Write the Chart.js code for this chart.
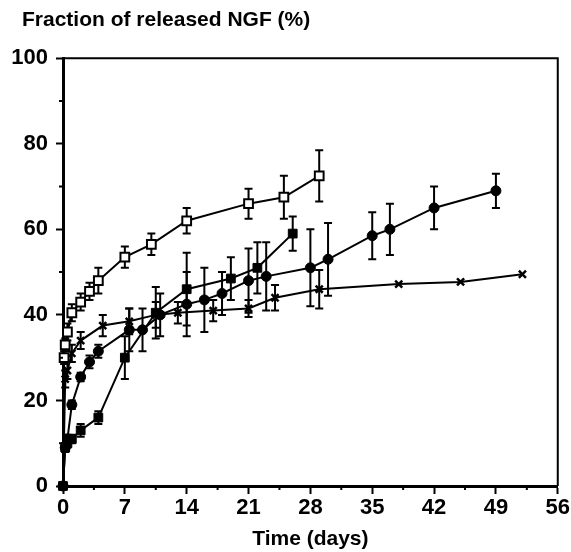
<!DOCTYPE html>
<html>
<head>
<meta charset="utf-8">
<script src="https://cdn.jsdelivr.net/npm/chart.js@4/dist/chart.umd.min.js"></script>
<style>
html,body{margin:0;padding:0;background:#fff;}
canvas{display:block;}
</style>
</head>
<body>
<canvas id="c" width="571" height="552"></canvas>
<script>
// Open squares
const sqDays = [0.125, 0.25, 0.5, 1, 2, 3, 4, 7, 10, 14, 21, 25, 29];
const sqVals = [30, 33, 36, 40.5, 43, 45.5, 48, 53.5, 56.5, 62, 66, 67.5, 72.5];
const sqErr  = [1.5, 1.5, 2, 2, 2, 2, 3, 2.5, 2.5, 3, 3.5, 5, 6];
// Filled circles
const ciDays = [0, 0.25, 0.5, 1, 2, 3, 4, 7.5, 9, 11, 14, 16, 18, 21, 23, 28, 30, 35, 37, 42, 49];
const ciVals = [0, 9, 11, 19, 25.5, 29, 31.5, 36.5, 36.5, 40, 42.5, 43.5, 45, 48, 49, 51, 53, 58.5, 60, 65, 69];
const ciErr  = [0, 1, 1, 1, 1, 1.5, 1.5, 5, 5, 5, 7.5, 7.5, 5, 7.5, 8, 9, 8.5, 5.5, 6, 5, 4];
// Filled squares
const fsDays = [0, 0.25, 0.5, 1, 2, 4, 7, 10.5, 14, 19, 22, 26];
const fsVals = [0, 9, 10, 11, 13, 16, 30, 40.5, 46, 48.5, 51, 59];
const fsErr  = [0, 1, 1, 1, 1.5, 1.5, 5, 6, 8.5, 5, 6, 4];
// Crosses
const xxDays = [0, 0.25, 0.5, 1, 2, 4.5, 7.5, 10.5, 13, 17, 21, 24, 29, 38, 45, 52];
const xxVals = [0, 25, 27, 31, 34, 37.5, 38.5, 40, 40.5, 41, 41.5, 44, 46, 47.2, 47.7, 49.5];
const xxErr  = [0, 2, 2, 2, 2, 2.5, 3, 3, 2.5, 2.5, 2, 3, 4.5, 0, 0, 0];

const xTicks = [0, 7, 14, 21, 28, 35, 42, 49, 56];
const yTicks = [0, 20, 40, 60, 80, 100];

const pts = (d, v) => d.map((x, i) => ({x: x, y: v[i]}));
const FONT = "'Liberation Sans', Arial, sans-serif";

const errPlugin = {
  id: 'errbars',
  afterLayout(chart) {
    if (chart.titleBlock) { chart.titleBlock.left = 22; }
  },
  beforeDatasetsDraw(chart) {
    const ctx = chart.ctx, xs = chart.scales.x, ys = chart.scales.y;
    chart.data.datasets.forEach(ds => {
      const errs = ds.errors;
      if (!errs) return;
      ctx.save();
      ctx.strokeStyle = '#000';
      ctx.lineWidth = 2;
      ds.data.forEach((p, j) => {
        const e = errs[j];
        if (!e) return;
        const px = xs.getPixelForValue(p.x);
        const t = ys.getPixelForValue(p.y + e), b = ys.getPixelForValue(p.y - e);
        ctx.beginPath();
        ctx.moveTo(px, t); ctx.lineTo(px, b);
        ctx.moveTo(px - 4, t); ctx.lineTo(px + 4, t);
        ctx.moveTo(px - 4, b); ctx.lineTo(px + 4, b);
        ctx.stroke();
      });
      ctx.restore();
    });
  },
  afterDraw(chart) {
    const ctx = chart.ctx, a = chart.chartArea, xs = chart.scales.x, ys = chart.scales.y;
    ctx.save();
    ctx.strokeStyle = '#000';
    ctx.lineWidth = 2;
    ctx.beginPath();
    ctx.moveTo(a.left, a.top); ctx.lineTo(a.right, a.top); ctx.lineTo(a.right, a.bottom);
    ctx.stroke();
    // minor ticks
    ctx.beginPath();
    for (let i = 0; i < xTicks.length - 1; i++) {
      const px = xs.getPixelForValue((xTicks[i] + xTicks[i + 1]) / 2);
      ctx.moveTo(px, a.bottom); ctx.lineTo(px, a.bottom + 4);
    }
    for (let i = 0; i < yTicks.length - 1; i++) {
      const py = ys.getPixelForValue((yTicks[i] + yTicks[i + 1]) / 2);
      ctx.moveTo(a.left, py); ctx.lineTo(a.left - 4, py);
    }
    ctx.stroke();
    ctx.restore();
  }
};

const base = {showLine: true, borderColor: '#000', borderWidth: 2, pointBorderColor: '#000', clip: false, tension: 0};

new Chart(document.getElementById('c'), {
  type: 'scatter',
  data: {
    datasets: [
      Object.assign({}, base, {label: 'open', data: pts(sqDays, sqVals), errors: sqErr,
        pointStyle: 'rect', pointRadius: 6.2, pointBackgroundColor: '#fff', pointBorderWidth: 2}),
      Object.assign({}, base, {label: 'circle', data: pts(ciDays, ciVals), errors: ciErr,
        pointStyle: 'circle', pointRadius: 5, pointBackgroundColor: '#000', pointBorderWidth: 1}),
      Object.assign({}, base, {label: 'fsquare', data: pts(fsDays, fsVals), errors: fsErr,
        pointStyle: 'rect', pointRadius: 6.2, pointBackgroundColor: '#000', pointBorderWidth: 1}),
      Object.assign({}, base, {label: 'cross', data: pts(xxDays, xxVals), errors: xxErr,
        pointStyle: 'crossRot', pointRadius: 5, pointBackgroundColor: '#000', pointBorderWidth: 2.5})
    ]
  },
  options: {
    responsive: false,
    animation: false,
    devicePixelRatio: 1,
    layout: {padding: {left: 0, right: 13, top: 8, bottom: 0}},
    plugins: {
      legend: {display: false},
      tooltip: {enabled: false},
      title: {
        display: true, text: 'Fraction of released NGF (%)', align: 'start', color: '#000',
        font: {family: FONT, size: 21, weight: 'bold'}, padding: {top: 0, bottom: 25}
      }
    },
    scales: {
      x: {
        type: 'linear', min: 0, max: 56,
        afterBuildTicks: s => { s.ticks = xTicks.map(v => ({value: v})); },
        ticks: {color: '#000', font: {family: FONT, size: 22, weight: 'bold'}, padding: 1, maxRotation: 0, autoSkip: false},
        grid: {drawOnChartArea: false, tickLength: 8, tickWidth: 2, color: '#000'},
        border: {display: true, width: 3, color: '#000'},
        title: {display: true, text: 'Time (days)', color: '#000', font: {family: FONT, size: 21, weight: 'bold'}, padding: {top: 0, bottom: 0}},
        afterFit: s => { s.height = 66; }
      },
      y: {
        type: 'linear', min: 0, max: 100,
        afterBuildTicks: s => { s.ticks = yTicks.map(v => ({value: v})); },
        ticks: {color: '#000', font: {family: FONT, size: 22, weight: 'bold'}, padding: 8},
        grid: {drawOnChartArea: false, tickLength: 7, tickWidth: 2, color: '#000'},
        border: {display: true, width: 3, color: '#000'},
        afterFit: s => { s.width = 63; }
      }
    }
  },
  plugins: [errPlugin]
});
</script>
</body>
</html>
